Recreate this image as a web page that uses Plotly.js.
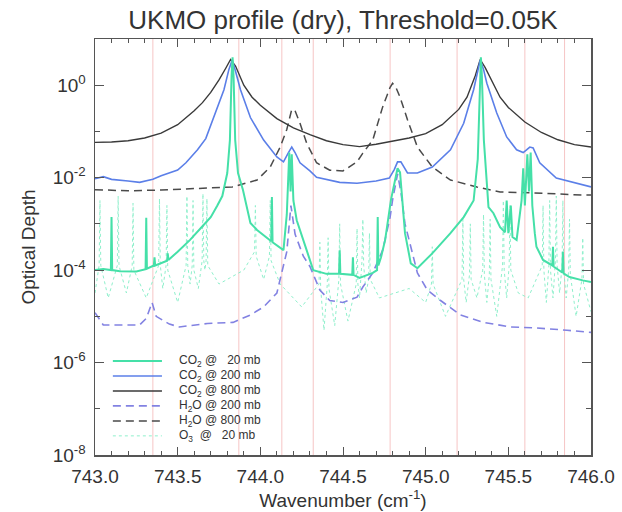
<!DOCTYPE html>
<html>
<head>
<meta charset="utf-8">
<script src="https://cdn.plot.ly/plotly-3.0.1.min.js"></script>
<style>html,body{margin:0;padding:0;background:#fff;}#chart{width:622px;height:512px;}</style>
</head>
<body>
<div id="chart"></div>
<script>
// ---------------- data ----------------
const co2_800_wn  = [743.0,743.1,743.2,743.3,743.4,743.5,743.6,743.65,743.7,743.75,743.79,743.82,743.85,743.9,743.95,744.0,744.1,744.2,744.3,744.4,744.5,744.6,744.7,744.8,744.9,745.0,745.1,745.2,745.25,745.3,745.33,745.36,745.4,745.45,745.5,745.6,745.7,745.8,745.9,746.0];
const co2_800_val = [0.058,0.059,0.063,0.072,0.092,0.14,0.28,0.42,0.7,1.3,2.3,3.6,2.6,1.0,0.55,0.37,0.19,0.12,0.085,0.063,0.052,0.047,0.053,0.062,0.072,0.09,0.14,0.3,0.55,1.6,3.6,2.4,1.2,0.55,0.33,0.16,0.095,0.066,0.052,0.046];

const co2_200_wn  = [743.0,743.05,743.1,743.15,743.2,743.27,743.35,743.4,743.5,743.55,743.62,743.67,743.71,743.75,743.78,743.81,743.83,743.85,743.88,743.94,744.02,744.1,744.14,744.17,744.19,744.21,744.24,744.3,744.34,744.48,744.585,744.7,744.78,744.81,744.83,744.85,744.89,744.95,745.04,745.15,745.23,745.29,745.31,745.33,745.35,745.37,745.43,745.49,745.55,745.59,745.61,745.63,745.65,745.69,745.79,745.92,746.0];
const co2_200_val = [0.0095,0.0105,0.0092,0.009,0.0085,0.0079,0.0092,0.011,0.0146,0.021,0.04,0.07,0.17,0.4,0.8,2.2,3.5,2.0,0.8,0.2,0.065,0.028,0.022,0.035,0.046,0.035,0.021,0.014,0.0102,0.0079,0.0076,0.0085,0.0098,0.015,0.022,0.022,0.0126,0.0126,0.017,0.04,0.15,0.8,1.8,3.5,2.2,1.1,0.25,0.076,0.04,0.035,0.04,0.046,0.044,0.021,0.0098,0.0076,0.0063];

const co2_20_wn  = [743.00,743.05,743.096,743.10,743.104,743.15,743.25,743.306,743.31,743.314,743.356,743.36,743.364,743.40,743.436,743.44,743.444,743.50,743.575,743.65,743.70,743.74,743.77,743.80,743.816,743.826,743.832,743.838,743.848,743.865,743.895,743.94,743.98,744.066,744.07,744.074,744.14,744.16,744.175,744.183,744.19,744.20,744.22,744.28,744.32,744.40,744.476,744.48,744.484,744.556,744.56,744.564,744.60,744.68,744.706,744.71,744.714,744.73,744.755,744.79,744.815,744.83,744.845,744.86,744.875,744.91,744.95,745.04,745.15,745.23,745.29,745.315,745.328,745.334,745.34,745.352,745.38,745.41,745.45,745.48,745.49,745.50,745.515,745.525,745.55,745.58,745.59,745.60,745.615,745.625,745.635,745.645,745.66,745.67,745.71,745.766,745.77,745.774,745.826,745.83,745.834,745.87,745.95,746.00];
const co2_20_val = [1.0e-4,1.05e-4,1.0e-4,1.4e-3,1.0e-4,9.5e-5,9.3e-5,1.05e-4,1.35e-3,1.07e-4,1.26e-4,1.9e-4,1.26e-4,1.4e-4,1.6e-4,2.3e-4,1.66e-4,2.5e-4,4.5e-4,8.9e-4,1.4e-3,2.5e-3,4.0e-3,1.26e-2,6.5e-2,1.6,4.0,1.6,6.5e-2,1.26e-2,5.4e-3,1.05e-3,7.4e-4,4.2e-4,3.8e-3,4.0e-4,2.7e-4,1.6e-3,3.5e-2,5.0e-3,3.2e-2,3.2e-3,1.2e-3,2.7e-4,1.0e-4,8.3e-5,8.3e-5,2.7e-4,8.3e-5,7.9e-5,1.9e-4,7.9e-5,6.8e-5,8.7e-5,1.0e-4,1.4e-3,1.26e-4,1.9e-4,4.5e-4,3.3e-3,1.0e-2,1.6e-2,1.3e-2,2.5e-3,6.3e-4,1.4e-4,1.1e-4,2.3e-4,6.3e-4,1.4e-3,3.2e-3,2.5e-2,1.6,4.0,1.6,6.5e-2,2.3e-3,1.7e-3,8.5e-4,6.6e-4,3.2e-3,6.3e-4,2.5e-3,5.2e-4,4.5e-4,3.2e-3,1.6e-2,2.5e-3,3.2e-2,5.0e-3,3.5e-2,2.5e-3,6.3e-4,3.2e-4,1.66e-4,1.26e-4,3.2e-4,1.2e-4,8.9e-5,2.5e-4,8.5e-5,7.1e-5,6.0e-5,5.5e-5];

const h2o_200_wn  = [743.0,743.03,743.05,743.15,743.27,743.31,743.345,743.37,743.39,743.45,743.51,743.68,743.835,743.94,744.02,744.10,744.16,744.185,744.21,744.26,744.30,744.36,744.42,744.5,744.585,744.62,744.68,744.74,744.785,744.80,744.83,744.85,744.875,744.95,745.01,745.09,745.21,745.35,745.51,745.67,745.855,745.95,746.0];
const h2o_200_val = [1.2e-5,8e-6,6.5e-6,6.5e-6,6.5e-6,9e-6,2.0e-5,1.0e-5,9e-6,6.8e-6,5.9e-6,7e-6,7.4e-6,1.07e-5,1.6e-5,3.2e-5,2.5e-4,2.5e-3,6e-4,2e-4,1.2e-4,3.7e-5,2.2e-5,2e-5,2.6e-5,4.3e-5,8.7e-5,2.7e-4,1.4e-3,3.3e-3,1.2e-2,5e-3,1e-3,8.7e-5,3.7e-5,2.2e-5,1.07e-5,7.4e-6,5.9e-6,5.6e-6,5e-6,4.6e-6,4.5e-6];

const h2o_800_wn  = [743.0,743.2,743.4,743.6,743.83,743.98,744.06,744.12,744.16,744.19,744.21,744.24,744.28,744.34,744.42,744.5,744.585,744.62,744.68,744.74,744.785,744.80,744.82,744.845,744.89,744.95,745.04,745.15,745.31,745.45,745.65,745.95,746.0];
const h2o_800_val = [0.0055,0.0052,0.0054,0.0058,0.0063,0.0089,0.017,0.046,0.11,0.3,0.28,0.15,0.056,0.021,0.0145,0.014,0.022,0.034,0.065,0.34,0.9,1.1,0.9,0.55,0.18,0.046,0.017,0.0089,0.0063,0.0049,0.0047,0.0042,0.0042];

const o3_20_wn = [743.00, 743.025,743.03,743.035, 743.08, 743.135,743.14,743.145, 743.19, 743.225,743.23,743.235, 743.31, 743.385,743.39,743.395, 743.41, 743.43,743.435,743.44, 743.50, 743.551,743.556,743.561, 743.575, 743.588,743.593,743.598, 743.625, 743.648,743.653,743.658, 743.665, 743.672,743.677,743.682, 743.75, 743.90, 743.965,743.97,743.975, 744.02, 744.055,744.06,744.065, 744.12, 744.25, 744.355,744.36,744.365, 744.385, 744.405,744.41,744.415, 744.45, 744.475,744.48,744.485, 744.53, 744.58,744.585,744.59, 744.60, 744.615,744.62,744.625, 744.64, 744.655,744.66,744.665, 744.72, 744.90, 745.00, 745.035,745.04,745.045, 745.12, 745.22,745.225,745.23, 745.245, 745.265,745.27,745.275, 745.31, 745.345,745.35,745.355, 745.37, 745.385,745.39,745.395, 745.43, 745.465,745.47,745.475, 745.49, 745.505,745.51,745.515, 745.56, 745.62, 745.705,745.71,745.715, 745.73, 745.745,745.75,745.755, 745.77, 745.785,745.79,745.795, 745.81, 745.825,745.83,745.835, 745.85, 745.865,745.87,745.875, 745.91, 745.945,745.95,745.955, 746.00];
const o3_20_val = [3.2e-5, 1.26e-4,3.2e-3,1.26e-4, 2.5e-5, 1.26e-4,4e-3,1.26e-4, 3.2e-5, 1.26e-4,2.8e-3,1e-4, 2.5e-5, 1.26e-4,3.5e-3,1.26e-4, 4e-5, 1.26e-4,2.5e-3,1e-4, 2e-5, 1.26e-4,4e-3,1.26e-4, 5e-5, 1.26e-4,3.2e-3,1e-4, 4e-5, 1.6e-4,4.5e-3,1.6e-4, 1e-4, 1.6e-4,3.5e-3,1.26e-4, 5e-5, 1e-4, 2.5e-4,2.5e-3,2e-4, 6.3e-5, 2e-4,3.2e-3,1.6e-4, 5e-5, 1.6e-5, 5e-5,4e-4,4e-5, 5e-6, 5e-5,5e-4,4e-5, 6.3e-6, 6.3e-5,1e-3,5e-5, 7.9e-6, 5e-5,7.9e-4,5e-5, 2.5e-5, 1.6e-4,1.26e-3,1.26e-4, 3.2e-5, 6.3e-5,6.3e-4,6.3e-5, 2.5e-5, 4e-5, 2e-5, 5e-5,3.2e-4,5e-5, 1e-5, 6.3e-5,1.26e-3,6.3e-5, 2e-5, 7.9e-5,1e-3,6.3e-5, 2.5e-5, 1e-4,1.6e-3,7.9e-5, 2e-5, 7.9e-5,1.26e-3,6.3e-5, 1e-5, 1.26e-4,3.2e-3,1e-4, 2.5e-5, 1.26e-4,2.5e-3,1e-4, 3.2e-5, 2.5e-5, 1.26e-4,2.5e-3,1e-4, 2e-5, 1.26e-4,3.2e-3,1e-4, 2.5e-5, 1.6e-4,4e-3,1.26e-4, 3.2e-5, 1.26e-4,3.2e-3,1e-4, 2.5e-5, 1e-4,1.26e-3,7.9e-5, 1e-5, 6.3e-5,5e-4,5e-5, 1.26e-5];

// channel marker wavenumbers (thin pink verticals)
const channelWn = [743.35, 743.87, 744.13, 744.32, 744.785, 745.19, 745.60, 745.84];

// axis ticks
const yTickVals = [1e-8, 1e-6, 1e-4, 1e-2, 1];
const yTickText = ['10<sup>-8</sup>', '10<sup>-6</sup>', '10<sup>-4</sup>', '10<sup>-2</sup>', '10<sup>0</sup>'];
const yMinorVals = [1e-7, 1e-5, 1e-3, 1e-1, 10];

const seriesNames = ['CO<sub>2</sub> @\u00a0\u00a0 20 mb', 'CO<sub>2</sub> @ 200 mb', 'CO<sub>2</sub> @ 800 mb',
                     'H<sub>2</sub>O @ 200 mb', 'H<sub>2</sub>O @ 800 mb', 'O<sub>3</sub>\u00a0 @\u00a0\u00a0 20 mb'];

// ---------------- styling ----------------
const FONT = 'Liberation Sans, Arial, Helvetica, sans-serif';
const TXT = '#333333';
const AX = '#555555';
const styles = [
  {color:'#45e0a8', width:2,   dash:'solid'},
  {color:'#5b7fe8', width:1.6, dash:'solid'},
  {color:'#3a3a3a', width:1.4, dash:'solid'},
  {color:'#8282e2', width:1.6, dash:'8px,5px'},
  {color:'#4a4a4a', width:1.5, dash:'8px,5px'},
  {color:'#8ff0cc', width:1,   dash:'dot'}
];
const seriesX = [co2_20_wn, co2_200_wn, co2_800_wn, h2o_200_wn, h2o_800_wn, o3_20_wn];
const seriesY = [co2_20_val, co2_200_val, co2_800_val, h2o_200_val, h2o_800_val, o3_20_val];

const drawOrder = [5, 4, 3, 2, 1, 0];
const traces = drawOrder.map(i => ({
  type:'scatter', mode:'lines', x:seriesX[i], y:seriesY[i], name:seriesNames[i],
  line:{color:styles[i].color, width:styles[i].width, dash:styles[i].dash},
  showlegend:false, hoverinfo:'skip'
}));

const shapes = channelWn.map(v => ({
  type:'line', xref:'x', yref:'paper', x0:v, x1:v, y0:0, y1:1,
  line:{color:'rgba(238,150,150,0.55)', width:1}, layer:'below'
}));

// hand-made compact legend (bottom-left inside the plot)
const legX0 = 0.036, legX1 = 0.135, legTextX = 0.165, legTop = 0.226, legStep = 0.036;
const annotations = [];
seriesNames.forEach((nm, i) => {
  const yy = legTop - i * legStep;
  shapes.push({type:'line', xref:'paper', yref:'paper', x0:legX0, x1:legX1, y0:yy, y1:yy,
    line:{color:styles[i].color, width:styles[i].width, dash:styles[i].dash}});
  annotations.push({xref:'paper', yref:'paper', x:legTextX, y:yy, xanchor:'left', yanchor:'middle',
    text:nm, showarrow:false, font:{family:FONT, size:12, color:TXT}});
});

const layout = {
  width:622, height:512,
  margin:{l:95, r:31, t:39, b:57, pad:0},
  paper_bgcolor:'#ffffff', plot_bgcolor:'#ffffff',
  title:{text:'UKMO profile (dry), Threshold=0.05K', font:{family:FONT, size:26, color:TXT},
         x:0.5, xref:'paper', xanchor:'center', y:0.962, yref:'container', yanchor:'middle'},
  xaxis:{range:[743, 746], tickmode:'linear', tick0:743, dtick:0.5, tickformat:'.1f',
         ticks:'inside', ticklen:8, tickwidth:1, tickcolor:AX, ticklabelstandoff:4,
         showline:true, linecolor:AX, linewidth:1.5, mirror:'ticks', showgrid:false, zeroline:false,
         minor:{dtick:0.1, ticks:'inside', ticklen:4, tickwidth:1, tickcolor:AX, showgrid:false},
         tickfont:{family:FONT, size:19, color:TXT},
         title:{text:'Wavenumber (cm<sup>-1</sup>)', font:{family:FONT, size:19, color:TXT}, standoff:2}},
  yaxis:{type:'log', range:[-8, 1], tickmode:'array', tickvals:yTickVals, ticktext:yTickText,
         ticks:'inside', ticklen:9, tickwidth:1, tickcolor:AX, ticklabelstandoff:4,
         showline:true, linecolor:AX, linewidth:1.5, mirror:'ticks', showgrid:false, zeroline:false,
         minor:{tickvals:yMinorVals, ticks:'inside', ticklen:5, tickwidth:1, tickcolor:AX, showgrid:false},
         tickfont:{family:FONT, size:19, color:TXT},
         title:{text:'Optical Depth', font:{family:FONT, size:19, color:TXT}, standoff:12}},
  shapes:shapes,
  annotations:annotations,
  showlegend:false
};

Plotly.newPlot('chart', traces, layout, {staticPlot:true, displayModeBar:false});
</script>
</body>
</html>
